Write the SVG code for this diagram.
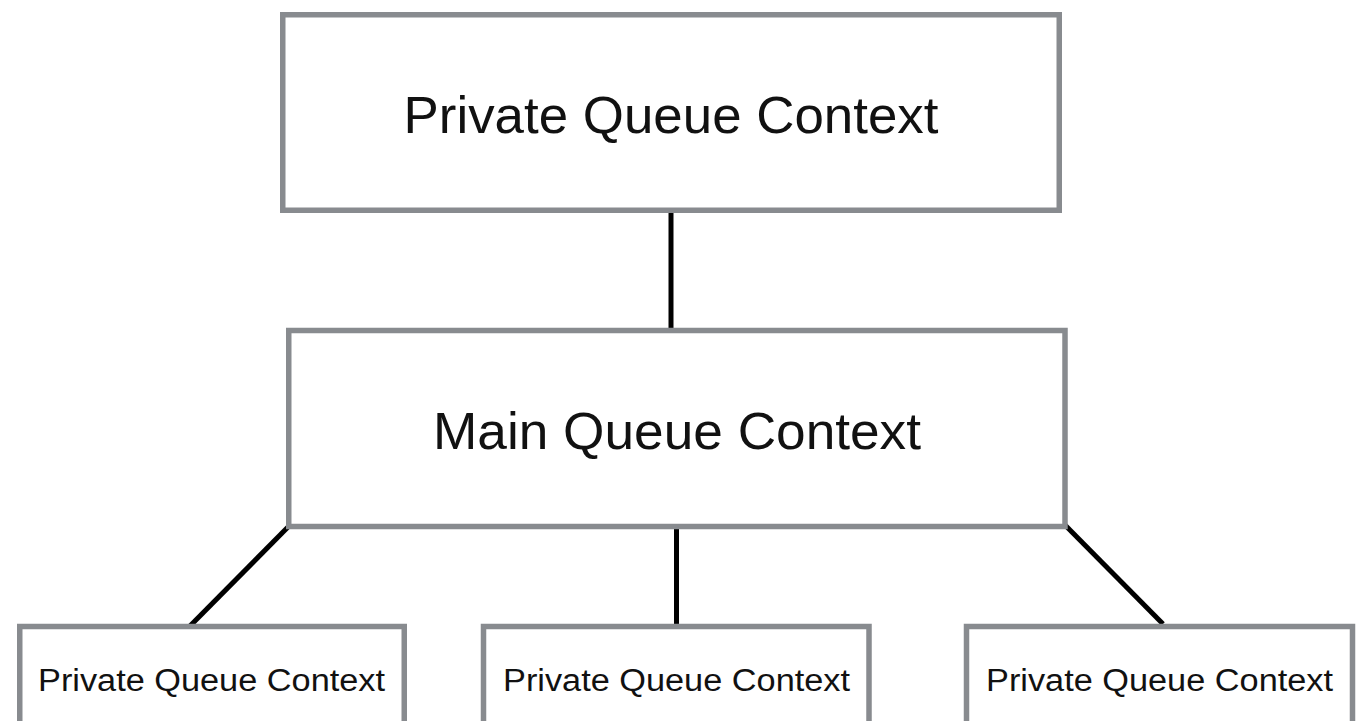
<svg xmlns="http://www.w3.org/2000/svg" width="1367" height="721" viewBox="0 0 1367 721">
<style>
.box{fill:#ffffff;stroke:#888b8f;stroke-width:5.5}
.big{font-family:"Liberation Sans",Arial,sans-serif;font-size:52px;fill:#111;text-anchor:middle}
.small{font-family:"Liberation Sans",Arial,sans-serif;font-size:31px;fill:#111;text-anchor:middle}
.conn{stroke:#000;stroke-width:5;fill:none}
</style>
<rect width="1367" height="721" fill="#ffffff"/>
<g id="connectors">
<line class="conn" x1="671" y1="210" x2="671" y2="329"/>
<line class="conn" x1="676.5" y1="527" x2="676.5" y2="627"/>
<line class="conn" x1="288" y1="527" x2="189" y2="627"/>
<line class="conn" x1="1064" y1="524" x2="1163" y2="624"/>
</g>
<g id="top">
<rect class="box" x="282.75" y="14.75" width="776.5" height="195.5"/>
<text class="big" x="671" y="133" textLength="535" lengthAdjust="spacingAndGlyphs">Private Queue Context</text>
</g>
<g id="main">
<rect class="box" x="288.75" y="330.5" width="776.25" height="196"/>
<text class="big" x="677" y="449" textLength="488" lengthAdjust="spacingAndGlyphs">Main Queue Context</text>
</g>
<g id="child1">
<rect class="box" x="19.75" y="626.5" width="384.5" height="110"/>
<text class="small" x="211.5" y="690.5" textLength="347" lengthAdjust="spacingAndGlyphs">Private Queue Context</text>
</g>
<g id="child2">
<rect class="box" x="483.5" y="626.5" width="385.5" height="110"/>
<text class="small" x="676.5" y="690.5" textLength="347" lengthAdjust="spacingAndGlyphs">Private Queue Context</text>
</g>
<g id="child3">
<rect class="box" x="966.5" y="626.5" width="386" height="110"/>
<text class="small" x="1159.5" y="690.5" textLength="347" lengthAdjust="spacingAndGlyphs">Private Queue Context</text>
</g>
</svg>
